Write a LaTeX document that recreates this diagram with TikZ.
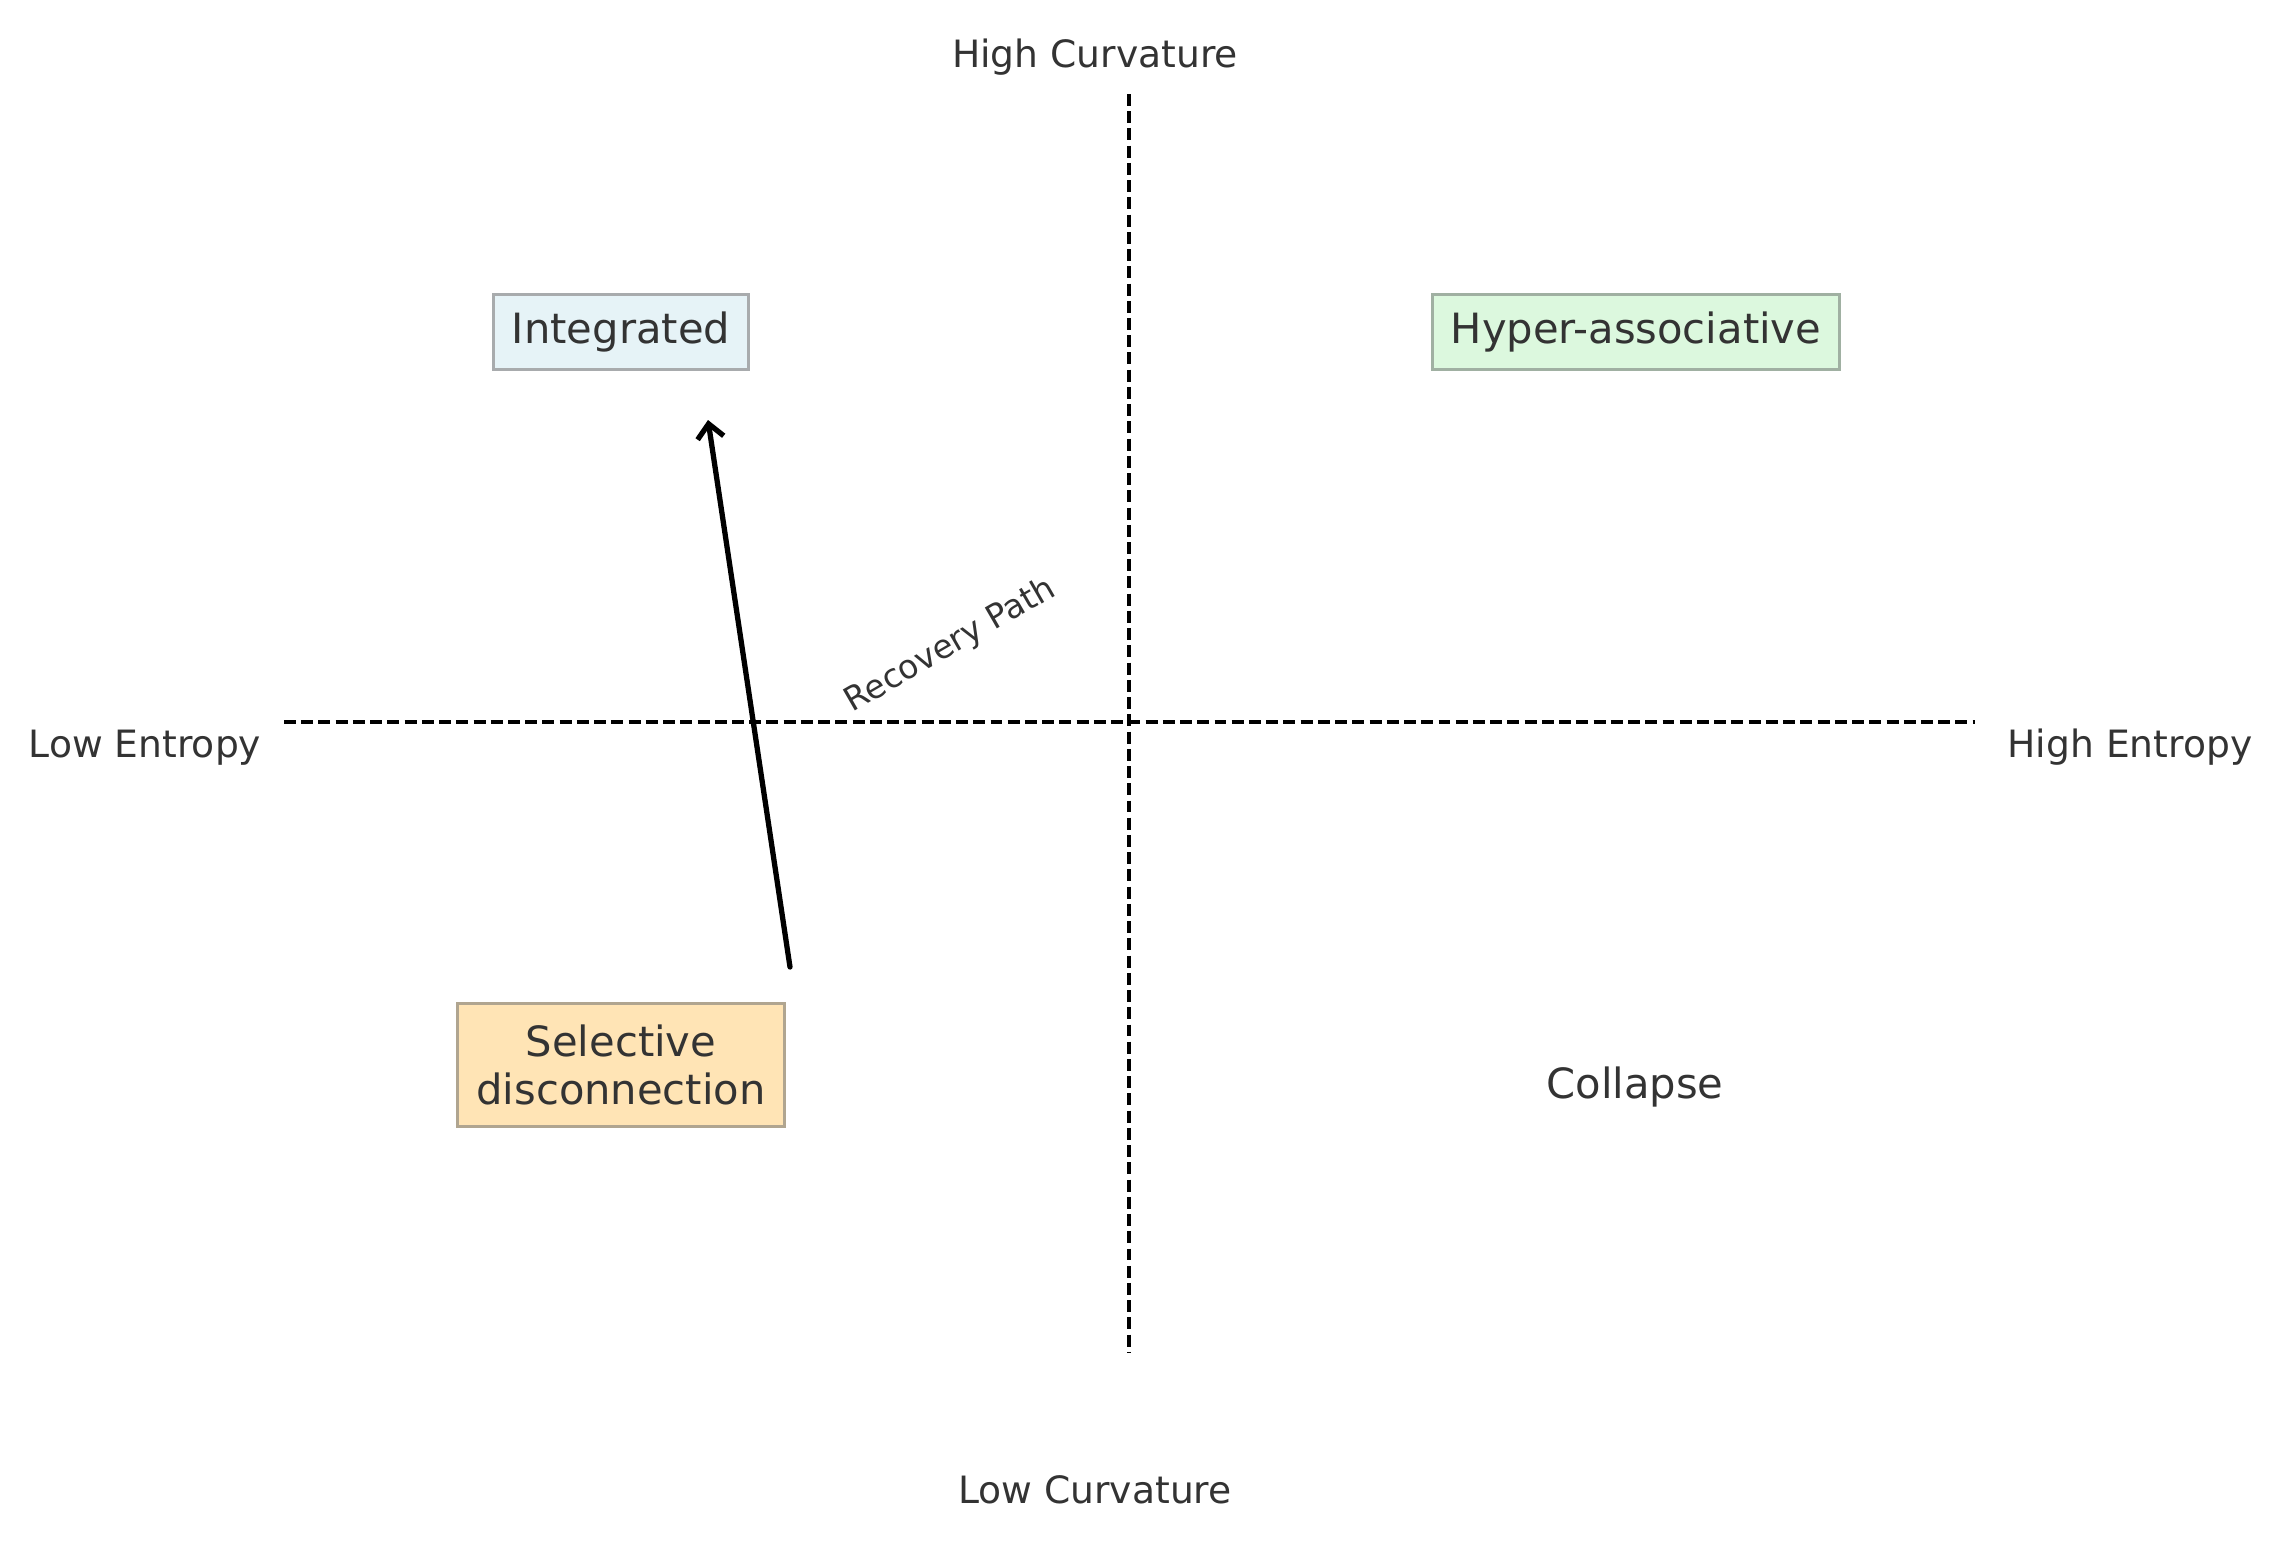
\documentclass[tikz,border=0pt]{standalone}
\usepackage{fontspec}
\setmainfont{DejaVu Sans}
\usetikzlibrary{positioning,arrows.meta}
\definecolor{inkgray}{HTML}{333333}
\definecolor{intfill}{HTML}{E6F3F7}
\definecolor{intedge}{HTML}{A8ABAD}
\definecolor{hypfill}{HTML}{DCF8DE}
\definecolor{hypedge}{HTML}{A0B0A2}
\definecolor{selfill}{HTML}{FFE4B5}
\definecolor{seledge}{HTML}{B0A590}

\begin{document}
\begin{tikzpicture}[x=0.01cm, y=-0.01cm, >={Straight Barb[length=4pt,width=7.5pt]},
  axisline/.style={black, line width=1.1pt, dash pattern=on 3.4pt off 1.5pt},
  axislabel/.style={inkgray, font=\fontsize{10.7}{12.8}\selectfont, anchor=base},
  statebox/.style={draw, line width=0.9pt, inkgray, inner xsep=5.3pt, inner ysep=0pt,
    font=\fontsize{11.85}{13.7}\selectfont, align=center},
  oneline/.style={minimum height=21.2pt}]
\useasboundingbox (0,0) rectangle (2281,1542);
% quadrant axes
\coordinate (curvtop) at (1129,94);
\coordinate (curvbot) at (1129,1353);
\coordinate (entleft) at (284,722);
\coordinate (entright) at (1975,722);
\draw[axisline] (curvtop) -- (curvbot);
\draw[axisline] (entleft) -- (entright);
\node[axislabel] (highcurv) at (1095,67) {High Curvature};
\node[axislabel] (lowcurv) at (1095,1503) {Low Curvature};
\node[axislabel] (lowent) at (145,757) {Low Entropy};
\node[axislabel] (highent) at (2130,757) {High Entropy};
% states
\node[statebox, oneline, fill=intfill, draw=intedge] (integrated) at (621,332) {Integrated};
\node[statebox, oneline, fill=hypfill, draw=hypedge] (hyper) at (1636,332) {Hyper-associative};
\node[statebox, minimum height=34.8pt, fill=selfill, draw=seledge] (selective) at (621,1065) {Selective\\disconnection};
\node[inkgray, font=\fontsize{11.85}{13.7}\selectfont] (collapse) at (1635,1087) {Collapse};
% recovery path
\coordinate (pathstart) at (790,967);
\coordinate (pathend) at (708,420);
\draw[->, line width=1.5pt, line cap=round] (pathstart) -- (pathend);
\node[inkgray, font=\fontsize{9.4}{11}\selectfont, anchor=base west, rotate=30] (recovery) at (842,719) {Recovery Path};
\end{tikzpicture}
\end{document}
